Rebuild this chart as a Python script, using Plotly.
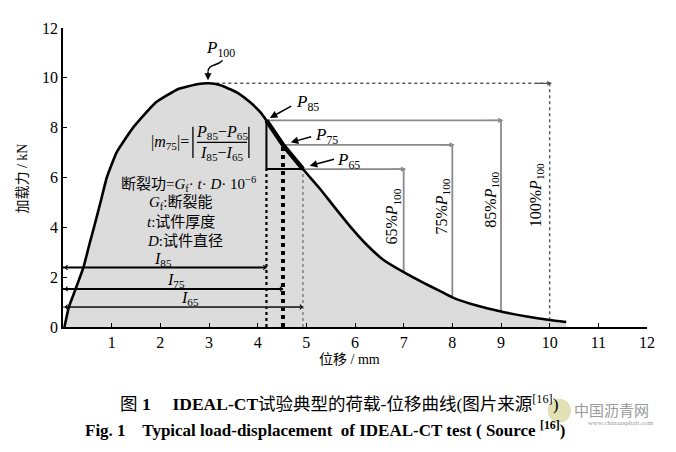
import plotly.graph_objects as go

# ---- data ----
disp = [0.03, 0.12, 0.26, 0.42, 0.54, 0.65, 0.77, 0.9, 1.1, 1.44, 1.9, 2.37, 2.78, 3.0, 3.22,
        3.57, 3.84, 4.05, 4.18, 4.52, 4.93, 5.28, 5.55, 5.89, 6.24, 6.58, 7.0, 7.4, 7.74,
        8.0, 8.5, 9.0, 9.5, 10.0, 10.34]
load = [0.0, 0.8, 1.53, 2.39, 3.3, 4.1, 5.0, 6.0, 7.0, 8.0, 9.0, 9.55, 9.75, 9.78, 9.71,
        9.42, 9.03, 8.63, 8.29, 7.31, 6.34, 5.55, 4.88, 4.06, 3.3, 2.7, 2.2, 1.78, 1.45,
        1.19, 0.86, 0.62, 0.43, 0.28, 0.2]

peak_x, peak_y = 3.0, 9.78
pct_levels = [8.29, 7.31, 6.34]          # P85, P75, P65 (kN)
pct_disp = [4.18, 4.52, 4.93]            # I85, I75, I65 (mm)
bracket_x = [9.0, 8.0, 7.0]              # where the grey brackets drop
bracket_end = [0.62, 1.19, 2.2]          # curve load at bracket_x
full_x, full_end = 10.0, 0.28            # 100% bracket
i_heights = [2.39, 1.53, 0.8]            # heights of the I85/I75/I65 dimension lines
x_ticks = list(range(0, 13))
x_ticktext = [""] + [str(v) for v in range(1, 13)]
y_ticks = list(range(0, 13, 2))

SERIF = "Liberation Serif, Noto Sans CJK SC"
GREY = "#8a8a8a"

fig = go.Figure()

def line(xs, ys, color="black", width=1.5, dash="solid"):
    fig.add_trace(go.Scatter(x=xs, y=ys, mode="lines", showlegend=False, hoverinfo="skip",
                             line=dict(color=color, width=width, dash=dash)))

# filled area under curve
fig.add_trace(go.Scatter(x=disp, y=load, mode="lines", fill="tozeroy", fillcolor="#dcdcdc",
                         line=dict(color="rgba(0,0,0,0)", width=0, shape="spline", smoothing=0.4),
                         showlegend=False, hoverinfo="skip"))

# dotted top line and 100% drop
line([peak_x + 0.15, full_x], [peak_y, peak_y], color="#555555", width=1.4, dash="dot")
line([full_x, full_x], [peak_y, full_end], color="#555555", width=1.4, dash="dot")

# grey brackets
for lvl, xs, bx, be in zip(pct_levels, pct_disp, bracket_x, bracket_end):
    line([xs, bx, bx], [lvl, lvl, be], color=GREY, width=1.8)

# vertical dotted lines from axis up to the levels
line([pct_disp[0], pct_disp[0]], [0, pct_levels[2]], color="black", width=2.2, dash="dot")
line([pct_disp[1], pct_disp[1]], [0, pct_levels[1]], color="black", width=4, dash="dot")
line([pct_disp[2], pct_disp[2]], [0, pct_levels[2]], color="#777777", width=1.4, dash="dot")

# black triangle sides
line([pct_disp[0], pct_disp[0], pct_disp[2]], [pct_levels[0], pct_levels[2], pct_levels[2]],
     color="black", width=2)

# I dimension lines
line([0, pct_disp[0]], [i_heights[0], i_heights[0]], color="black", width=2)
line([0, pct_disp[1]], [i_heights[1], i_heights[1]], color="black", width=2)
line([0, pct_disp[2]], [i_heights[2], i_heights[2]], color="#666666", width=1.4)

# main curve
fig.add_trace(go.Scatter(x=disp, y=load, mode="lines", showlegend=False, hoverinfo="skip",
                         line=dict(color="black", width=2.6, shape="spline", smoothing=0.4)))
# emphasised segment P85 -> P65
seg = [i for i, d in enumerate(disp) if pct_disp[0] <= d <= pct_disp[2]]
fig.add_trace(go.Scatter(x=[disp[i] for i in seg], y=[load[i] for i in seg], mode="lines",
                         showlegend=False, hoverinfo="skip",
                         line=dict(color="black", width=4.5)))

ann = []
def txt(x, y, s, size=15, angle=0, xanchor="center", color="black", xref="x", yref="y"):
    ann.append(dict(x=x, y=y, text=s, showarrow=False, xref=xref, yref=yref,
                    xanchor=xanchor, yanchor="middle", textangle=angle,
                    font=dict(family=SERIF, size=size, color=color)))

def arrow(x, y, ax, ay, color="black", width=1.5, head=2, size=1.0, side="end"):
    ann.append(dict(x=x, y=y, ax=ax, ay=ay, xref="x", yref="y", axref="x", ayref="y",
                    text="", showarrow=True, arrowhead=head, arrowsize=size,
                    arrowwidth=width, arrowcolor=color, arrowside=side, startarrowhead=head,
                    startarrowsize=size))

# P labels and arrows
txt(3.24, 11.14, "<i>P</i><sub>100</sub>", size=17)
arrow(2.98, 9.9, 2.98, 10.3, width=1.4)
txt(5.03, 8.98, "<i>P</i><sub>85</sub>", size=17)
arrow(4.25, 8.39, 4.72, 8.9)
txt(5.42, 7.65, "<i>P</i><sub>75</sub>", size=17)
arrow(4.68, 7.41, 5.13, 7.65)
txt(5.87, 6.67, "<i>P</i><sub>65</sub>", size=17)
arrow(5.07, 6.47, 5.6, 6.75)

# corner arrowheads on brackets
for lvl, bx in zip(pct_levels, bracket_x):
    arrow(bx + 0.05, lvl, bx - 0.3, lvl, color=GREY, width=1.3, size=0.8)
arrow(full_x + 0.05, peak_y, full_x - 0.3, peak_y, color="#555555", width=1.2, size=0.8)

# rotated percentage labels
txt(9.73, 5.27, "100%<i>P</i><sub>100</sub>", size=16, angle=-90)
txt(8.81, 5.1, "85%<i>P</i><sub>100</sub>", size=16, angle=-90)
txt(7.80, 4.82, "75%<i>P</i><sub>100</sub>", size=16, angle=-90)
txt(6.78, 4.43, "65%<i>P</i><sub>100</sub>", size=16, angle=-90)

# I dimension arrows and labels
for h, xs in zip(i_heights, pct_disp):
    arrow(xs, h, 0.0, h, color="black", width=1.0, head=4, size=0.9, side="end+start")
txt(2.06, 2.72, "<i>I</i><sub>85</sub>", size=16)
txt(2.32, 1.86, "<i>I</i><sub>75</sub>", size=16)
txt(2.6, 1.15, "<i>I</i><sub>65</sub>", size=16)

# slope formula
txt(2.2, 7.42, "|<i>m</i><sub>75</sub>|=", size=16)
txt(3.26, 7.82, "<i>P</i><sub>85</sub>−<i>P</i><sub>65</sub>", size=16)
txt(3.26, 6.98, "<i>I</i><sub>85</sub>−<i>I</i><sub>65</sub>", size=16)

# energy text
txt(2.57, 5.72, "断裂功=<i>G</i><sub>f</sub>· <i>t</i>· <i>D</i>· 10<sup>−6</sup>", size=15)
txt(2.42, 4.98, "<i>G</i><sub>f</sub>:断裂能", size=15)
txt(2.42, 4.2, "<i>t</i>:试件厚度", size=15)
txt(2.5, 3.45, "<i>D</i>:试件直径", size=15)

# axis titles
txt(-0.07, 0.497, "加载力 / kN", size=14, angle=-90, xref="paper", yref="paper")
txt(0.491, -0.11, "位移 / mm", size=14, xref="paper", yref="paper")

# captions
txt(0.474, -0.255, "图 <b>1</b>     <b>IDEAL-CT</b>试验典型的荷载-位移曲线(图片来源<sup>[16]</sup>)",
    size=17.5, xref="paper", yref="paper")
txt(0.449, -0.34, "<b>Fig. 1    Typical load-displacement  of IDEAL-CT test ( Source <sup>[16]</sup>)</b>",
    size=17, xref="paper", yref="paper")
# watermark
txt(0.94, -0.28, "中国沥青网", size=15, color="#9a9a9a", xref="paper", yref="paper")
txt(0.955, -0.322, "www.chinaasphalt.com", size=7, color="#9a9a9a", xref="paper", yref="paper")

shapes = [
    # formula bars and fraction line
    dict(type="line", xref="x", yref="y", x0=2.67, x1=2.67, y0=6.78, y1=8.04, line=dict(color="black", width=1.3)),
    dict(type="line", xref="x", yref="y", x0=3.82, x1=3.82, y0=6.78, y1=8.04, line=dict(color="black", width=1.3)),
    dict(type="line", xref="x", yref="y", x0=2.75, x1=3.78, y0=7.41, y1=7.41, line=dict(color="black", width=1.1)),
    # wavy P100 pointer
    dict(type="path", xref="x", yref="y", path="M 3.28,10.7 C 3.15,10.45 2.98,10.55 2.98,10.25",
         line=dict(color="black", width=1.4)),
    # watermark logo
    dict(type="circle", xref="paper", yref="paper", x0=0.83, x1=0.87, y0=-0.32, y1=-0.24,
         fillcolor="rgba(200,200,120,0.55)", line=dict(width=0)),
]

fig.update_layout(
    width=668, height=444, margin=dict(l=55, r=29, t=13, b=125),
    paper_bgcolor="white", plot_bgcolor="white",
    annotations=ann, shapes=shapes,
    xaxis=dict(range=[0, 12], tickvals=x_ticks, ticktext=x_ticktext, ticks="inside", ticklen=4,
               tickcolor="black", showline=True, linecolor="black", linewidth=1.5,
               showgrid=False, zeroline=False,
               tickfont=dict(family=SERIF, size=16, color="black")),
    yaxis=dict(range=[0, 12], tickvals=y_ticks, ticks="inside", ticklen=4, tickcolor="black",
               showline=True, linecolor="black", linewidth=1.5, showgrid=False, zeroline=False,
               tickfont=dict(family=SERIF, size=16, color="black")),
)

fig.write_html("out.html")
